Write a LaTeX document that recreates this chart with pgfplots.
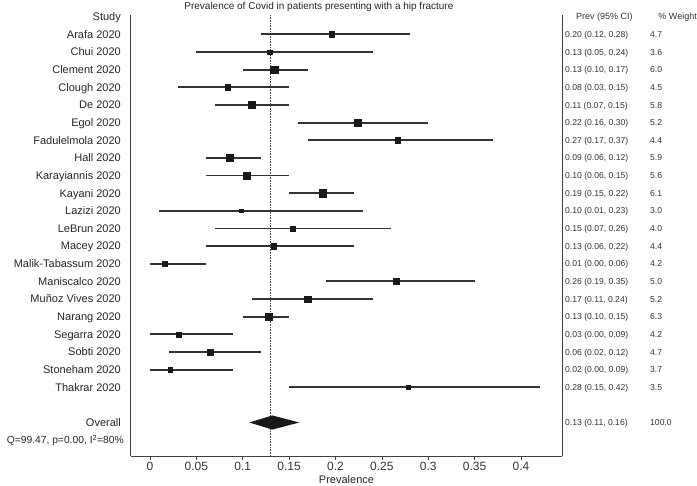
\documentclass[border=0pt]{standalone}
\usepackage{pgfplots}
\pgfplotsset{compat=1.18}
\usepackage{pgfplotstable}
\usepackage{fontspec}
\setmainfont{Liberation Sans}

% row, estimate, lower, upper, weight
\pgfplotstableread{
row est lo hi w
1 0.196 0.12 0.28 4.7
2 0.129 0.05 0.24 3.6
3 0.134 0.10 0.17 6.0
4 0.084 0.03 0.15 4.5
5 0.110 0.07 0.15 5.8
6 0.224 0.16 0.30 5.2
7 0.267 0.17 0.37 4.4
8 0.086 0.06 0.12 5.9
9 0.104 0.06 0.15 5.6
10 0.186 0.15 0.22 6.1
11 0.098 0.01 0.23 3.0
12 0.154 0.07 0.26 4.0
13 0.133 0.06 0.22 4.4
14 0.016 0.00 0.06 4.2
15 0.265 0.19 0.35 5.0
16 0.170 0.11 0.24 5.2
17 0.128 0.10 0.15 6.3
18 0.031 0.00 0.09 4.2
19 0.065 0.02 0.12 4.7
20 0.022 0.00 0.09 3.7
21 0.278 0.15 0.42 3.5
}\studies

\tikzset{coltext/.style={anchor=base west, inner sep=0pt, font=\fontsize{8.6}{10}\selectfont, text=black!80, yshift=-3.1pt}}
\newcommand{\rowtext}[3]{%
  \node[coltext, xshift=3pt] at (axis cs:0.4442,#1) {#2};%
  \node[coltext, xshift=88pt] at (axis cs:0.4442,#1) {#3};}

\begin{document}
\begin{tikzpicture}
\begin{axis}[
  name=ax,
  scale only axis, width=431pt, height=441pt,
  xmin=-0.0205, xmax=0.4442,
  ymin=-0.1, ymax=24.9, y dir=reverse,
  axis x line*=bottom, axis y line*=box,
  axis line style={-, black!75, line width=1pt},
  xtick={0,0.05,0.1,0.15,0.2,0.25,0.3,0.35,0.4},
  xticklabels={0,0.05,0.1,0.15,0.2,0.25,0.3,0.35,0.4},
  tick align=outside, major tick length=4pt,
  xtick style={black!75, line width=0.6pt},
  xticklabel style={font=\fontsize{12}{13}\selectfont, text=black!80,
    anchor=base, inner sep=0pt, yshift=-10pt},
  /pgf/number format/assume math mode=true,
  ytick={0,1,2,3,4,5,6,7,8,9,10,11,12,13,14,15,16,17,18,19,20,21,23},
  yticklabels={Study, Arafa 2020, Chui 2020, Clement 2020, Clough 2020, De 2020,
    Egol 2020, Fadulelmola 2020, Hall 2020, Karayiannis 2020, Kayani 2020,
    Lazizi 2020, LeBrun 2020, Macey 2020, Malik-Tabassum 2020, Maniscalco 2020,
    Muñoz Vives 2020, Narang 2020, Segarra 2020, Sobti 2020, Stoneham 2020,
    Thakrar 2020, Overall},
  ytick style={draw=none},
  yticklabel style={font=\fontsize{11}{12}\selectfont, text=black!85,
    anchor=base east, inner sep=0pt, xshift=-6pt, yshift=-3.9pt},
  xlabel={Prevalence},
  xlabel style={font=\fontsize{11}{12}\selectfont, text=black!85,
    at={(0.5,0)}, anchor=base, inner sep=0pt, yshift=-27pt},
  title={Prevalence of Covid in patients presenting with a hip fracture},
  title style={font=\fontsize{10}{11}\selectfont, text=black!85,
    at={(0.436,1)}, anchor=base, inner sep=0pt},
  clip=false,
]
\addplot[densely dotted, black!70, line width=0.6pt] coordinates {(0.13,-0.1) (0.13,24.9)};
\addplot[black!90, only marks, mark=square*, scatter,
  scatter/use mapped color={draw=black!90, fill=black!90},
  visualization depends on={0.6*\thisrow{w} \as \msize},
  scatter/@pre marker code/.append style={/tikz/mark size=\msize},
  error bars/.cd, x dir=both, x explicit, error mark=none,
  error bar style={line width=1.9pt, black!80}]
  table[x=est, y=row,
    x error minus expr=\thisrow{est}-\thisrow{lo},
    x error plus expr=\thisrow{hi}-\thisrow{est}] {\studies};
\addplot[fill=black!90, draw=none] coordinates {(0.107,23) (0.132,22.6) (0.161,23) (0.132,23.4)} -- cycle;

\node[coltext, font=\fontsize{9}{10}\selectfont, xshift=14pt] at (axis cs:0.4442,0) {Prev (95\% CI)};
\node[coltext, anchor=base east, font=\fontsize{9}{10}\selectfont, xshift=135pt] at (axis cs:0.4442,0) {\% Weight};
\rowtext{1}{0.20 (0.12, 0.28)}{4.7}
\rowtext{2}{0.13 (0.05, 0.24)}{3.6}
\rowtext{3}{0.13 (0.10, 0.17)}{6.0}
\rowtext{4}{0.08 (0.03, 0.15)}{4.5}
\rowtext{5}{0.11 (0.07, 0.15)}{5.8}
\rowtext{6}{0.22 (0.16, 0.30)}{5.2}
\rowtext{7}{0.27 (0.17, 0.37)}{4.4}
\rowtext{8}{0.09 (0.06, 0.12)}{5.9}
\rowtext{9}{0.10 (0.06, 0.15)}{5.6}
\rowtext{10}{0.19 (0.15, 0.22)}{6.1}
\rowtext{11}{0.10 (0.01, 0.23)}{3.0}
\rowtext{12}{0.15 (0.07, 0.26)}{4.0}
\rowtext{13}{0.13 (0.06, 0.22)}{4.4}
\rowtext{14}{0.01 (0.00, 0.06)}{4.2}
\rowtext{15}{0.26 (0.19, 0.35)}{5.0}
\rowtext{16}{0.17 (0.11, 0.24)}{5.2}
\rowtext{17}{0.13 (0.10, 0.15)}{6.3}
\rowtext{18}{0.03 (0.00, 0.09)}{4.2}
\rowtext{19}{0.06 (0.02, 0.12)}{4.7}
\rowtext{20}{0.02 (0.00, 0.09)}{3.7}
\rowtext{21}{0.28 (0.15, 0.42)}{3.5}
\rowtext{23}{0.13 (0.11, 0.16)}{100.0}
\node[anchor=base east, inner sep=0pt, font=\fontsize{10.3}{12}\selectfont, text=black!85, xshift=-7pt, yshift=-3.7pt] at (axis cs:-0.0205,24) {Q=99.47, p=0.00, I\textsuperscript{2}=80\%};
\end{axis}
\pgfresetboundingbox
\useasboundingbox ([xshift=-131pt, yshift=15pt]ax.north west) rectangle ([xshift=135pt, yshift=-29pt]ax.south east);
\end{tikzpicture}
\end{document}
